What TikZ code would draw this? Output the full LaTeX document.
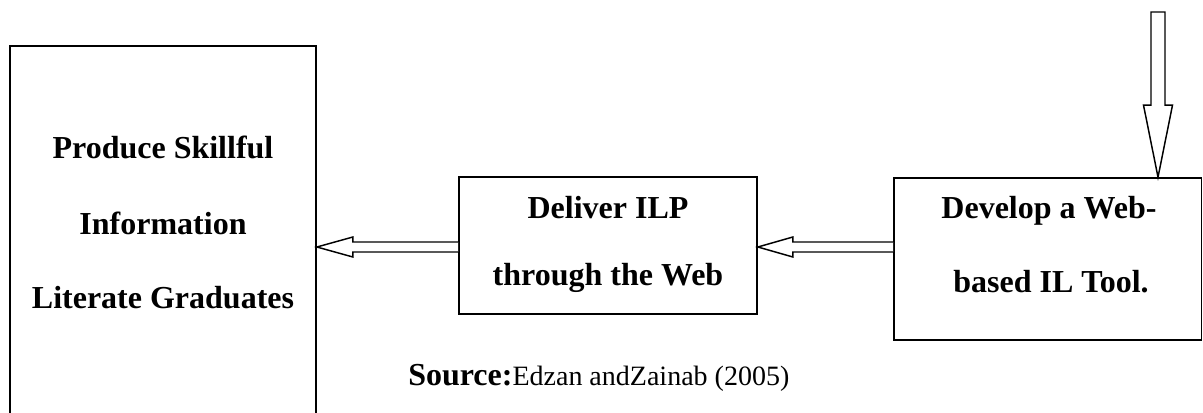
\documentclass[tikz,border=0pt]{standalone}
\usepackage{fontspec}
\setmainfont{Liberation Serif}
\usetikzlibrary{calc,fit}
\tikzset{
  box/.style={draw, line width=1.3pt, inner sep=0pt},
  boxtext/.style={font=\fontsize{24}{28}\selectfont\bfseries, anchor=base, inner sep=0pt},
  blockarrow/.style={draw, line width=1.1pt, fill=white, line join=miter},
}
\begin{document}
\begin{tikzpicture}[x=0.75pt,y=-0.75pt]
\clip (0,0) rectangle (1203,412);

% the three stages
\node[box, fit={(10,46) (316,425)}] (grad) {};
\node[box, fit={(459,177) (757,314)}] (deliver) {};
\node[box, fit={(894,178) (1201.5,340)}] (develop) {};

\node[boxtext] (g1) at (163,158) {Produce Skillful};
\node[boxtext] (g2) at (163,234) {Information};
\node[boxtext] (g3) at (163,308) {Literate Graduates};
\node[boxtext] (d1) at (608,218) {Deliver ILP};
\node[boxtext] (d2) at (608,285) {through the Web};
\node[boxtext] (w1) at (1049,218) {Develop a Web-};
\node[boxtext] (w2) at (1051,292) {based IL Tool.};

% source line
\node[anchor=base west, inner sep=0pt] (src) at (408,385)
  {{\fontsize{24}{28}\selectfont\bfseries Source:}{\fontsize{21}{25}\selectfont Edzan andZainab (2005)}};

% hollow block arrows between the stages
\coordinate (row) at (0,247);
\coordinate (a1tip) at (grad.east |- row);
\coordinate (a1end) at (deliver.west |- row);
\draw[blockarrow] ($(a1end)+(0,-5)$) -- ($(a1tip)+(36,-5)$) -- ($(a1tip)+(36,-10)$)
  -- (a1tip) -- ($(a1tip)+(36,10)$) -- ($(a1tip)+(36,5)$) -- ($(a1end)+(0,5)$);

\coordinate (a2tip) at (deliver.east |- row);
\coordinate (a2end) at (develop.west |- row);
\draw[blockarrow] ($(a2end)+(0,-5)$) -- ($(a2tip)+(35,-5)$) -- ($(a2tip)+(35,-10)$)
  -- (a2tip) -- ($(a2tip)+(35,10)$) -- ($(a2tip)+(35,5)$) -- ($(a2end)+(0,5)$);

% incoming arrow from above
\coordinate (dtop) at (1158,12);
\coordinate (dtip) at (dtop |- develop.north);
\draw[blockarrow] ($(dtop)+(-7,0)$) -- ($(dtip)+(-7,-72)$) -- ($(dtip)+(-14.5,-72)$)
  -- (dtip) -- ($(dtip)+(14.5,-72)$) -- ($(dtip)+(7,-72)$) -- ($(dtop)+(7,0)$) -- cycle;
\end{tikzpicture}
\end{document}
